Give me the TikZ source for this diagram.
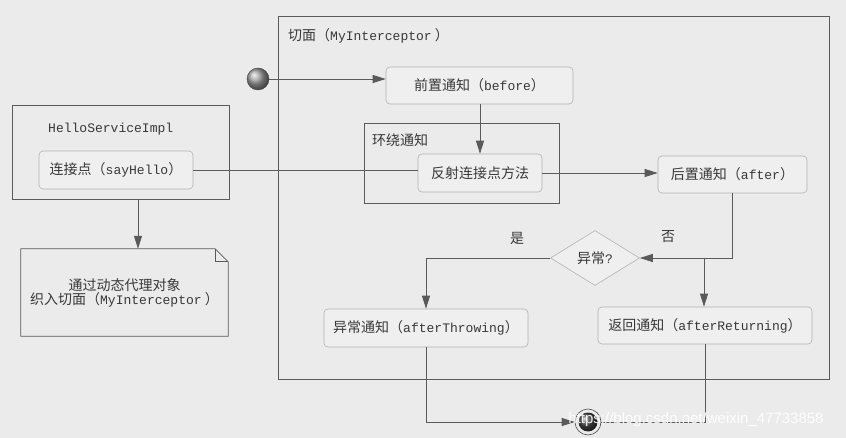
\documentclass[tikz,border=0pt]{standalone}
\usepackage{fontspec}
\setmainfont{Noto Sans CJK SC}
\setmonofont[Scale=0.93]{Liberation Mono}
\newfontfamily\wmfont{Liberation Sans}
\usetikzlibrary{arrows.meta,shapes.geometric,calc}
\definecolor{bg}{HTML}{EBEBEB}
\definecolor{boxfill}{HTML}{EFEFEF}
\definecolor{ln}{HTML}{5A5A5A}
\definecolor{txt}{HTML}{383838}
\newcommand{\mono}[1]{{\ttfamily #1}}
\begin{document}
\begin{tikzpicture}[x=1pt,y=-1pt,
  font=\fontsize{14}{17}\selectfont, text=txt,
  conn/.style={draw=ln, line width=0.8pt},
  arr/.style={conn, -{Triangle[length=13pt,width=8pt]}},
  actbox/.style={draw=gray!60, fill=boxfill, rounded corners=4pt, line width=0.6pt, inner sep=0pt, align=center},
  frm/.style={draw=ln, line width=0.8pt, inner sep=0pt},
  lbl/.style={anchor=west, inner sep=0pt}
]
\fill[bg] (0,0) rectangle (846,438);
\useasboundingbox (0,0) rectangle (846,438);

% main frame
\node[frm, minimum width=551pt, minimum height=363pt] (frame) at (553.5,197.5) {};
\node[lbl] (framelbl) at (288,36) {切面（\mono{MyInterceptor} ）};

% HelloServiceImpl
\node[frm, minimum width=217pt, minimum height=94pt] (hello) at (120.5,152) {};
\node[lbl] (hellolbl) at (48,129) {\mono{HelloServiceImpl}};
\node[actbox, minimum width=154pt, minimum height=38pt] (join) at (116,170) {连接点（\mono{sayHello}）};

% note
\node[inner sep=0pt, minimum width=207pt, minimum height=87pt, align=center] (note) at (124.5,292.5)
  {通过动态代理对象\\[-3pt]织入切面（\mono{MyInterceptor} ）};
\draw[draw=ln, line width=0.8pt] (note.north west) -- ($(note.north east)+(-13,0)$) -- ($(note.north east)+(0,13)$) -- (note.south east) -- (note.south west) -- cycle;
\draw[draw=ln, line width=0.6pt] ($(note.north east)+(-13,0)$) -- ($(note.north east)+(-13,13)$) -- ($(note.north east)+(0,13)$);

% start node
\node[circle, minimum size=22pt, inner sep=0pt, shading=ball, ball color=gray!75, draw=gray!50!black, line width=0.4pt] (start) at (258,79) {};

% actions
\node[actbox, minimum width=187pt, minimum height=37pt] (pre) at (479.5,85.5) {前置通知（\mono{before}）};
\node[frm, minimum width=195pt, minimum height=80pt] (around) at (461.5,163) {};
\node[lbl] (aroundlbl) at (372,140) {环绕通知};
\node[actbox, minimum width=124pt, minimum height=38pt] (reflect) at (480,173) {反射连接点方法};
\node[actbox, minimum width=149pt, minimum height=37pt] (after) at (732.5,174.5) {后置通知（\mono{after}）};

\node[diamond, draw=gray!60, fill=boxfill, line width=0.6pt, inner sep=0pt, aspect=1.62, minimum width=89pt, minimum height=55pt] (dia) at (595,258) {异常\mono{?}};

\node[actbox, minimum width=204pt, minimum height=38pt] (throw) at (426,328) {异常通知（\mono{afterThrowing}）};
\node[actbox, minimum width=214pt, minimum height=37pt] (ret) at (705,325.5) {返回通知（\mono{afterReturning}）};

% end node
\node[circle, minimum size=26pt, inner sep=0pt, draw=gray!60!black, line width=0.6pt, fill=bg] (end) at (588,422) {};
\shade[ball color=gray!55!black] (end.center) circle (9.5pt);

% labels
\node (yes) at (517,238) {是};
\node (no) at (668,237) {否};

% connectors
\coordinate (hs) at (138,199);
\coordinate (br) at (704,258);
\draw[arr] (start) -- (start -| pre.west);
\draw[arr] (reflect.north |- pre.south) -- (reflect.north);
\draw[conn] (join.east) -- (join.east -| reflect.west);
\draw[arr] (reflect.east) -- (reflect.east -| after.west);
\draw[arr] (after.south) |- (dia.east);
\draw[arr] (br) -- (br |- ret.north);
\draw[arr] (dia.west) -| (throw.north);
\draw[arr] (hs) -- (hs |- note.north);
\draw[arr] (throw.south) |- (end.west);
\draw[conn] (ret.south) |- (end.east);

% watermark
\node[inner sep=0pt, text=white, opacity=0.9, font=\wmfont\fontsize{15}{16}\selectfont] (wm) at (696,420) {https://blog.csdn.net/weixin\_47733858};
\end{tikzpicture}
\end{document}
